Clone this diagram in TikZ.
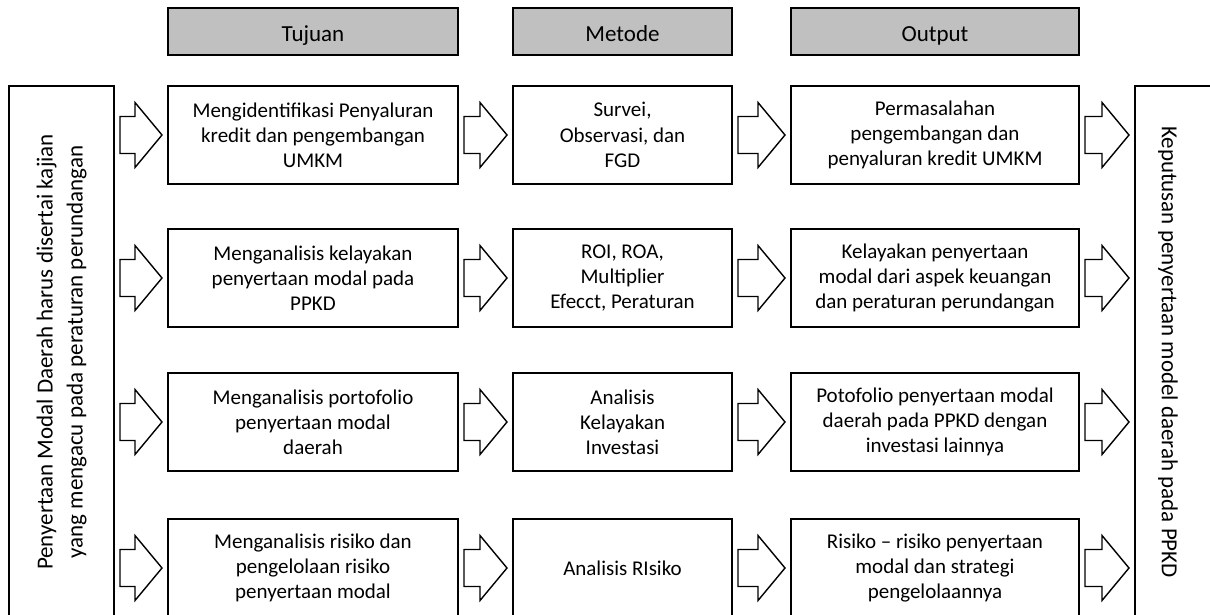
\documentclass[tikz,border=0pt]{standalone}
\usepackage{fontspec}
\setmainfont{Carlito}
\usetikzlibrary{calc}
\definecolor{hdrgray}{RGB}{192,192,192}
\tikzset{
  hdr/.style={draw, line width=1pt, fill=hdrgray, minimum height=23.5pt, text height=10.5pt, text depth=0pt, inner sep=0pt, font=\fontsize{11.5}{14}\selectfont},
  rowbox/.style={draw, line width=1pt, align=center, minimum height=49pt, inner sep=2pt, font=\fontsize{10.5}{12.6}\selectfont},
  sidebox/.style={draw, line width=1pt, align=center, font=\fontsize{11.5}{15}\selectfont},
  barrow/.style={draw, line width=0.7pt, fill=white, to path={
    ($(\tikztostart)+(5,-18.5)$) -- ($(\tikztotarget)+(-32,-18.5)$) -- ($(\tikztotarget)+(-32,-32.5)$)
    -- ($(\tikztotarget)+(-5,0)$) -- ($(\tikztotarget)+(-32,32.5)$) -- ($(\tikztotarget)+(-32,18.5)$)
    -- ($(\tikztostart)+(5,18.5)$) -- cycle}}
}
\begin{document}
\begin{tikzpicture}[x=0.5pt, y=-0.5pt]
  \useasboundingbox (0,0) rectangle (1210,615);
  \clip (0,0) rectangle (1210,615);
  % headers
  \node[hdr, minimum width=145pt] (tuj) at (313,31.5) {Tujuan};
  \node[hdr, minimum width=109.5pt] (met) at (622.5,31.5) {Metode};
  \node[hdr, minimum width=144pt] (out) at (935,31.5) {Output};
  % side boxes
  \node[sidebox, rotate=90, minimum width=266pt, minimum height=52.5pt] (input) at (61.5,352)
    {Penyertaan Modal Daerah harus disertai kajian\\yang mengacu pada peraturan perundangan};
  \node[draw, line width=1pt, minimum width=52.5pt, minimum height=266pt] (kep) at (1187.5,352) {};
  \node[rotate=-90, font=\fontsize{11.5}{15}\selectfont] (keptext) at (1168,352) {Keputusan penyertaan model daerah pada PPKD};
  % tujuan
  \node[rowbox, minimum width=145pt] (t1) at (313,135) {Mengidentifikasi Penyaluran\\kredit dan pengembangan\\UMKM};
  \node[rowbox, minimum width=145pt] (t2) at (313,278) {Menganalisis kelayakan\\penyertaan modal pada\\PPKD};
  \node[rowbox, minimum width=145pt] (t3) at (313,422) {Menganalisis portofolio\\penyertaan modal\\daerah};
  \node[rowbox, minimum width=145pt] (t4) at (313,568) {Menganalisis risiko dan\\pengelolaan risiko\\penyertaan modal};
  % metode
  \node[rowbox, minimum width=109.5pt] (m1) at (622.5,135) {Survei,\\Observasi, dan\\FGD};
  \node[rowbox, minimum width=109.5pt] (m2) at (622.5,278) {ROI, ROA,\\Multiplier\\Efecct, Peraturan};
  \node[rowbox, minimum width=109.5pt] (m3) at (622.5,422) {Analisis\\Kelayakan\\Investasi};
  \node[rowbox, minimum width=109.5pt] (m4) at (622.5,568) {Analisis RIsiko};
  % output
  \node[rowbox, minimum width=144pt] (o1) at (935,135) {Permasalahan\\pengembangan dan\\penyaluran kredit UMKM};
  \node[rowbox, minimum width=144pt] (o2) at (935,278) {Kelayakan penyertaan\\modal dari aspek keuangan\\dan peraturan perundangan};
  \node[rowbox, minimum width=144pt] (o3) at (935,422) {Potofolio penyertaan modal\\daerah pada PPKD dengan\\investasi lainnya};
  \node[rowbox, minimum width=144pt] (o4) at (935,568) {Risiko -- risiko penyertaan\\modal dan strategi\\pengelolaannya};
  % block arrows
  \draw[barrow] (input.south |- t1.west) to (t1.west);
  \draw[barrow] (input.south |- t2.west) to (t2.west);
  \draw[barrow] (input.south |- t3.west) to (t3.west);
  \draw[barrow] (input.south |- t4.west) to (t4.west);
  \draw[barrow] (t1.east) to (m1.west);
  \draw[barrow] (t2.east) to (m2.west);
  \draw[barrow] (t3.east) to (m3.west);
  \draw[barrow] (t4.east) to (m4.west);
  \draw[barrow] (m1.east) to (o1.west);
  \draw[barrow] (m2.east) to (o2.west);
  \draw[barrow] (m3.east) to (o3.west);
  \draw[barrow] (m4.east) to (o4.west);
  \draw[barrow] (o1.east) to (kep.west |- o1.east);
  \draw[barrow] (o2.east) to (kep.west |- o2.east);
  \draw[barrow] (o3.east) to (kep.west |- o3.east);
  \draw[barrow] (o4.east) to (kep.west |- o4.east);
\end{tikzpicture}
\end{document}
